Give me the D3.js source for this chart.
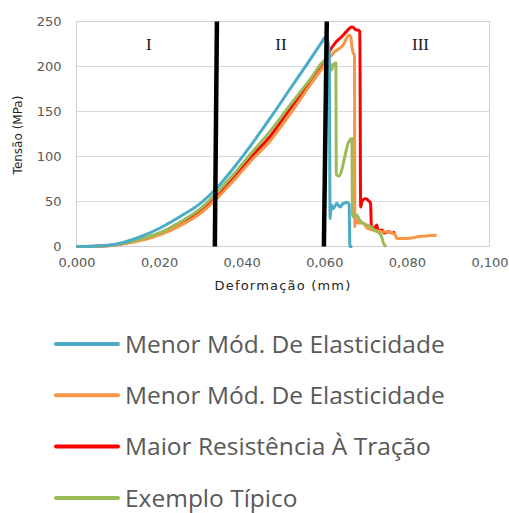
<!DOCTYPE html>
<html>
<head>
<meta charset="utf-8">
<script src="https://cdn.jsdelivr.net/npm/d3@7"></script>
<style>
  body { margin: 0; background: #fff; }
  svg { display: block; }
</style>
</head>
<body>
<svg width="509" height="513"></svg>
<script>
// tick values
var xTicks = [0, 0.02, 0.04, 0.06, 0.08, 0.1],
  yTicks = [0, 50, 100, 150, 200, 250];

// stage boundaries (black lines): [x at top, x at bottom]
var stageLines = [[0.0340, 0.0335], [0.0606, 0.0599]],
  stageLabels = [["I", 0.0175], ["II", 0.0495], ["III", 0.0833]];

// curves, [deformation (mm), stress (MPa)]
var blueCurve = [
  [0, 0], [0.005, 0.5], [0.010, 3], [0.015, 10], [0.020, 20], [0.025, 33],
  [0.030, 48], [0.034, 65], [0.038, 87], [0.042, 111], [0.0468, 142],
  [0.0517, 175], [0.0566, 208], [0.0595, 228], [0.0601, 232], [0.0607, 230],
  [0.0612, 215], [0.0614, 31], [0.0617, 46], [0.0622, 42], [0.0630, 48],
  [0.0638, 44], [0.0646, 48], [0.0656, 49], [0.0660, 47], [0.0662, 0], [0.0668, 0]
];

var orangeCurve = [
  [0, 0], [0.005, 0.3], [0.010, 2], [0.015, 6], [0.020, 12.8], [0.025, 23],
  [0.030, 37], [0.034, 53.5], [0.038, 73], [0.042, 94], [0.0468, 117],
  [0.0517, 147], [0.0565, 179], [0.0598, 200], [0.0622, 215], [0.0646, 224],
  [0.0660, 235], [0.0664, 233], [0.0667, 222], [0.0670, 215], [0.0673, 213],
  [0.0674, 22], [0.0677, 33], [0.0682, 26], [0.0693, 26], [0.0705, 20],
  [0.0722, 18], [0.0738, 16.5], [0.0755, 16], [0.0766, 14.5], [0.0772, 12.8],
  [0.0775, 9], [0.0800, 9], [0.0830, 11], [0.0872, 12.5]
];

var redCurve = [
  [0, 0], [0.005, 0.3], [0.010, 2.2], [0.015, 7], [0.020, 14], [0.025, 25],
  [0.030, 39], [0.034, 55], [0.038, 76], [0.042, 98], [0.0468, 122],
  [0.0517, 153], [0.0566, 183], [0.0600, 205], [0.0610, 214.6], [0.0626, 226],
  [0.0642, 233], [0.0654, 239], [0.0666, 244], [0.0670, 243.5], [0.0677, 240.5],
  [0.0681, 240.5], [0.0686, 238.7], [0.0688, 44], [0.0692, 51], [0.0700, 53],
  [0.0707, 51], [0.0712, 48], [0.0714, 22], [0.0720, 20], [0.0727, 24],
  [0.0730, 17], [0.0740, 18.3], [0.0745, 15], [0.0755, 16.5], [0.0765, 15],
  [0.0772, 16]
];

var greenCurve = [
  [0, 0], [0.005, 0.4], [0.010, 2.5], [0.015, 7.5], [0.020, 15], [0.025, 27],
  [0.030, 42], [0.034, 60], [0.038, 80], [0.042, 102], [0.0468, 127.6],
  [0.0517, 157], [0.0566, 186], [0.0602, 207], [0.0611, 208], [0.0614, 203],
  [0.0617, 196], [0.0622, 202], [0.0628, 204], [0.0629, 80], [0.0635, 78],
  [0.0660, 117], [0.0667, 120], [0.0668, 37], [0.0670, 33], [0.0678, 35],
  [0.0686, 29], [0.0702, 24], [0.0712, 22], [0.0722, 18], [0.0735, 14],
  [0.0740, 9], [0.0743, 4], [0.0747, 1], [0.0750, 0]
];

var seriesNames = ["Menor Mód. De Elasticidade", "Menor Mód. De Elasticidade",
  "Maior Resistência À Tração", "Exemplo Típico"],
  seriesColors = ["#4BACC6", "#F79646", "#FF0000", "#9BBB59"],
  seriesData = [blueCurve, orangeCurve, redCurve, greenCurve];

var svg = d3.select("svg");

var x = d3.scaleLinear().domain([0, 0.1]).range([76.5, 489.5]),
  y = d3.scaleLinear().domain([0, 250]).range([246.5, 21.5]);

var fmt = d3.formatLocale({decimal: ",", thousands: ".", grouping: [3], currency: ["", ""]}).format(".3f");

// gridlines
svg.append("g")
  .selectAll("line")
  .data(yTicks.slice(1))
  .enter().append("line")
    .attr("x1", x(0)).attr("x2", x(0.1))
    .attr("y1", function(d) { return y(d); })
    .attr("y2", function(d) { return y(d); })
    .attr("stroke", "#d9d9d9")
    .attr("stroke-width", 1);

// plot frame
svg.append("rect")
  .attr("x", x(0)).attr("y", y(250))
  .attr("width", x(0.1) - x(0)).attr("height", y(0) - y(250))
  .attr("fill", "none")
  .attr("stroke", "#cfcfcf")
  .attr("stroke-width", 1);

// axes
var xAxis = svg.append("g")
  .attr("transform", "translate(0," + y(0) + ")")
  .call(d3.axisBottom(x).tickValues(xTicks).tickFormat(fmt).tickSize(0).tickPadding(11));

var yAxis = svg.append("g")
  .attr("transform", "translate(" + x(0) + ",0)")
  .call(d3.axisLeft(y).tickValues(yTicks).tickSize(0).tickPadding(15));

[xAxis, yAxis].forEach(function(a) {
  a.select(".domain").remove();
  a.selectAll("text")
    .attr("fill", "#595959")
    .style("font-family", "'DejaVu Sans', sans-serif")
    .style("font-size", "13px");
});

// axis titles
svg.append("text")
  .attr("x", 283).attr("y", 290)
  .attr("text-anchor", "middle")
  .attr("fill", "#262626")
  .style("font-family", "'DejaVu Sans', sans-serif")
  .style("font-size", "13px")
  .style("letter-spacing", "1.2px")
  .text("Deformação (mm)");

svg.append("text")
  .attr("transform", "translate(22,135) rotate(-90)")
  .attr("text-anchor", "middle")
  .attr("fill", "#262626")
  .style("font-family", "'DejaVu Sans', sans-serif")
  .style("font-size", "12px")
  .text("Tensão (MPa)");

// curves
var line = d3.line()
  .x(function(d) { return x(d[0]); })
  .y(function(d) { return y(d[1]); })
  .curve(d3.curveMonotoneX);

var drawOrder = [2, 1, 3, 0];
svg.append("g")
  .selectAll("path")
  .data(drawOrder)
  .enter().append("path")
    .attr("d", function(i) { return line(seriesData[i]); })
    .attr("fill", "none")
    .attr("stroke", function(i) { return seriesColors[i]; })
    .attr("stroke-width", 3)
    .attr("stroke-linejoin", "round");

// stage boundaries
svg.append("g")
  .selectAll("line")
  .data(stageLines)
  .enter().append("line")
    .attr("x1", function(d) { return x(d[0]); })
    .attr("x2", function(d) { return x(d[1]); })
    .attr("y1", y(250))
    .attr("y2", y(0))
    .attr("stroke", "#000")
    .attr("stroke-width", 4.5);

svg.append("g")
  .selectAll("text")
  .data(stageLabels)
  .enter().append("text")
    .attr("x", function(d) { return x(d[1]); })
    .attr("y", 50)
    .attr("text-anchor", "middle")
    .attr("fill", "#1a1a1a")
    .style("font-family", "'Liberation Serif', serif")
    .style("font-size", "17px")
    .text(function(d) { return d[0]; });

// legend
var legend = svg.append("g")
  .selectAll("g")
  .data(seriesNames)
  .enter().append("g")
    .attr("transform", function(d, i) { return "translate(0," + (344 + i * 51.3) + ")"; });

legend.append("line")
  .attr("x1", 56).attr("x2", 118)
  .attr("stroke", function(d, i) { return seriesColors[i]; })
  .attr("stroke-width", 4)
  .attr("stroke-linecap", "round");

legend.append("text")
  .attr("x", 125)
  .attr("dy", "0.36em")
  .attr("fill", "#595959")
  .style("font-family", "'Open Sans', sans-serif")
  .style("font-size", "24.5px")
  .text(function(d) { return d; });
</script>
</body>
</html>
